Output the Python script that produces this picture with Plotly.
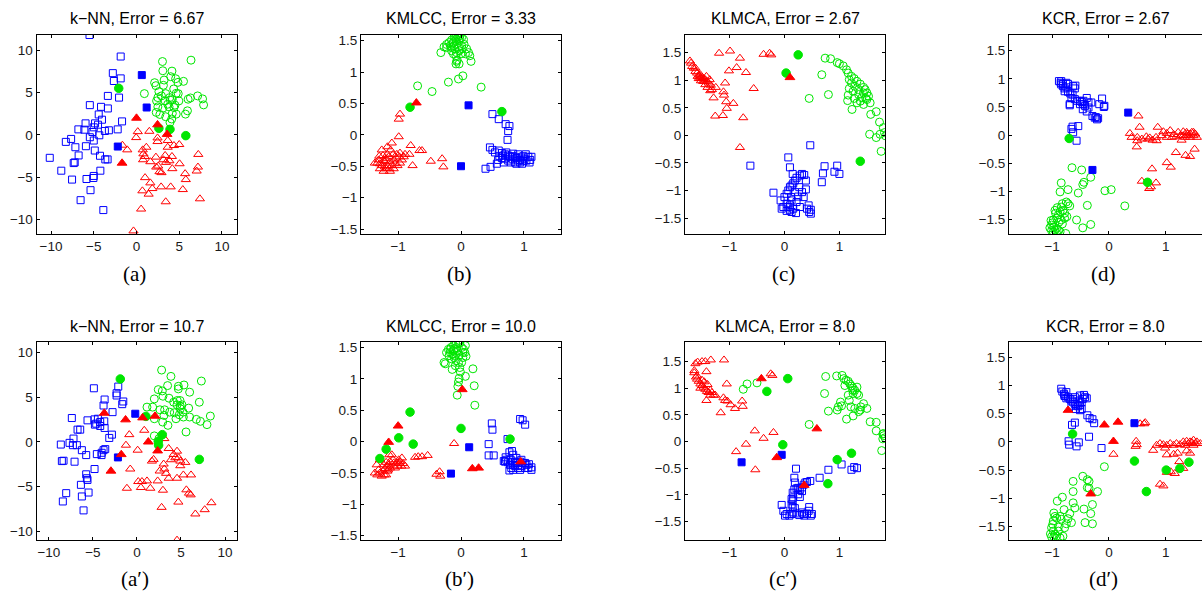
import plotly.graph_objects as go

W, H = 1202, 595

# ---------------- data: panel (a) k-NN ----------------
a_blue_open = [(-5.5,11.8),(-1.85,9.26),(-2.77,7.3),(-2.65,6.37),(-1.85,6.68),(-2.04,4.41),(-3.35,4.61),(-5.46,3.52),(-4.15,3.32),(-3.35,3.13),(-4.42,2.42),(-1.69,1.6),(-4.04,1.8),(-5.96,1.37),(-4.85,1.37),(-4.5,1.21),(-6.8,0.66),(-6.1,0.62),(-5.0,0.9),(-5.15,0.35),(-4.35,-0.04),(-5.46,-0.27),(-5.0,-0.66),(-3.7,0.47),(-3.23,0.55),(-2.2,0.66),(-7.65,-0.47),(-8.27,-0.82),(-7.15,-1.45),(-5.92,-1.33),(-4.88,-1.84),(-6.77,-2.42),(-4.27,-2.46),(-3.65,-2.89),(-3.38,-2.89),(-10.15,-2.7),(-7.23,-3.24),(-7.35,-3.32),(-8.8,-4.22),(-5.0,-4.84),(-5.04,-5.08),(-4.23,-4.22),(-5.85,-5.2),(-7.54,-5.27),(-5.38,-6.52),(-6.54,-7.7),(-3.88,-8.87)]
a_blue_fill = [(0.62,7.07),(1.19,3.24),(-2.19,-1.37)]
a_green_open = [(3.04,8.67),(6.38,8.83),(3.08,7.58),(4.15,7.54),(4.0,6.88),(4.58,6.64),(3.23,6.48),(2.12,6.17),(5.5,6.33),(4.85,6.21),(2.27,5.82),(3.15,5.86),(0.92,4.88),(2.62,5.12),(4.35,5.43),(3.42,4.88),(4.65,4.92),(4.88,4.88),(2.5,4.41),(2.92,4.61),(3.88,4.41),(6.04,4.22),(6.31,4.37),(7.15,4.61),(7.73,4.26),(7.85,3.55),(2.35,4.02),(3.35,4.02),(3.96,4.1),(4.19,4.18),(4.96,4.02),(2.5,3.32),(3.08,3.16),(3.81,3.32),(4.38,3.24),(2.31,2.66),(2.73,2.42),(4.19,2.54),(4.65,2.46),(5.96,2.85),(5.73,2.46),(3.42,2.15),(4.12,1.88),(3.92,1.48),(3.65,3.63),(4.5,3.52)]
a_green_fill = [(-2.08,5.51),(2.62,0.78),(3.92,0.66),(5.77,-0.08)]
a_red_open = [(-0.04,-0.31),(0.15,0.39),(1.5,0.43),(-1.65,-1.21),(-1.08,-1.76),(2.46,-0.35),(2.46,-0.78),(3.65,-0.66),(4.38,-1.25),(5.0,-1.13),(0.73,-1.76),(0.96,-2.54),(2.27,-2.62),(3.35,-2.42),(4.15,-2.54),(7.23,-2.3),(1.62,-3.16),(3.46,-3.24),(3.85,-3.05),(5.04,-3.4),(2.31,-3.79),(2.69,-4.34),(4.19,-3.98),(7.19,-3.79),(7.04,-4.26),(2.92,-4.45),(1.0,-5.04),(5.69,-4.57),(1.62,-5.66),(1.85,-6.33),(2.88,-6.13),(4.0,-6.13),(0.69,-6.6),(1.42,-6.99),(5.42,-6.45),(7.42,-7.54),(3.42,-7.89),(0.54,-8.75),(-0.35,-11.33),(0.77,-2.93),(3.65,-1.45),(3.15,-2.93),(2.54,-3.67),(0.81,-2.23),(1.15,-1.45),(5.77,-5.27)]
a_red_fill = [(0.0,1.99),(2.46,1.21),(3.58,0.08),(-1.69,-3.32)]

# ---------------- data: panel (b) KMLCC ----------------
b_green_open = [(-0.11,1.56),(-0.07,1.59),(-0.04,1.60),(-0.02,1.58),(0.01,1.55),(-0.08,1.52),(-0.15,1.51),(-0.19,1.47),(-0.23,1.44),(-0.27,1.40),(-0.12,1.47),(-0.03,1.50),(0.04,1.52),(-0.15,1.39),(-0.10,1.37),(-0.04,1.40),(0.01,1.42),(0.09,1.37),(0.12,1.31),(0.14,1.26),(0.16,1.17),(-0.32,1.31),(-0.23,1.39),(-0.12,1.29),(-0.08,1.26),(0.0,1.29),(0.07,1.29),(-0.07,1.17),(-0.08,1.13),(-0.06,1.19),(-0.03,1.13),(0.03,0.94),(-0.04,0.89),(-0.20,0.84),(-0.46,0.69),(-0.69,0.78),(0.32,0.76),(-0.05,1.56),(-0.09,1.55),(-0.02,1.54),(-0.13,1.46),(-0.17,1.42),(-0.11,1.42),(0.05,1.44),(-0.15,1.34),(-0.07,1.31),(-0.03,1.34),(0.02,1.37)]
b_green_fill = [(-0.81,0.44),(0.65,0.37)]
b_red_open = [(-0.97,0.33),(-0.99,0.25),(-0.99,-0.03),(-1.10,-0.13),(-1.17,-0.19),(-1.26,-0.24),(-1.12,-0.24),(-1.30,-0.34),(-1.33,-0.45),(-1.29,-0.46),(-1.23,-0.41),(-1.19,-0.38),(-1.15,-0.35),(-1.13,-0.43),(-1.07,-0.40),(-1.03,-0.37),(-0.98,-0.35),(-0.94,-0.40),(-1.21,-0.51),(-1.17,-0.49),(-1.23,-0.58),(-1.19,-0.54),(-1.10,-0.49),(-1.05,-0.46),(-0.97,-0.45),(-0.97,-0.29),(-1.26,-0.49),(-1.31,-0.40),(-1.14,-0.54),(-1.08,-0.31),(-1.02,-0.31),(-0.80,-0.17),(-0.82,-0.31),(-0.66,-0.25),(-0.62,-0.25),(-0.77,-0.49),(-0.48,-0.42),(-0.30,-0.38),(-0.28,-0.51),(-1.17,-0.31),(-1.24,-0.33),(-1.01,-0.49),(-0.89,-0.31),(-1.21,-0.43),(-1.29,-0.54),(-1.13,-0.58),(-1.07,-0.54),(-1.37,-0.45),(-0.91,-0.35)]
b_red_fill = [(-0.71,0.51)]
b_blue_open = [(0.50,0.33),(0.60,0.25),(0.71,0.17),(0.77,0.14),(0.75,0.06),(0.74,-0.08),(0.46,-0.20),(0.50,-0.24),(0.60,-0.25),(0.65,-0.29),(0.70,-0.31),(0.61,-0.34),(0.75,-0.33),(0.83,-0.30),(0.91,-0.31),(0.99,-0.34),(1.07,-0.35),(1.04,-0.41),(0.99,-0.42),(0.94,-0.40),(0.88,-0.37),(0.83,-0.39),(0.78,-0.35),(0.70,-0.38),(0.65,-0.37),(0.59,-0.40),(0.68,-0.44),(0.57,-0.46),(0.47,-0.51),(0.39,-0.54),(0.94,-0.44),(0.86,-0.44),(1.01,-0.38),(1.10,-0.40),(1.09,-0.44),(0.96,-0.36),(0.91,-0.41),(0.82,-0.34),(0.75,-0.41),(0.67,-0.33),(0.54,-0.28),(1.03,-0.31),(0.97,-0.46),(0.88,-0.46),(1.12,-0.35),(0.72,-0.28),(0.79,-0.44),(0.86,-0.35)]
b_blue_fill = [(0.12,0.47),(0.0,-0.50)]

# ---------------- data: panel (c) KLMCA ----------------
c_red_open = [(-1.72,1.35),(-1.70,1.31),(-1.68,1.25),(-1.65,1.22),(-1.62,1.16),(-1.59,1.13),(-1.58,1.07),(-1.55,1.09),(-1.53,1.04),(-1.50,1.05),(-1.47,1.03),(-1.44,1.01),(-1.41,0.98),(-1.38,0.95),(-1.44,0.92),(-1.40,0.87),(-1.35,0.81),(-1.32,0.83),(-1.25,0.87),(-1.36,1.01),(-1.48,0.98),(-1.53,1.10),(-1.56,1.03),(-1.42,1.07),(-1.29,0.68),(-1.26,0.35),(-1.12,0.36),(-1.10,0.73),(-1.11,0.79),(-1.08,0.95),(-1.05,0.49),(-1.06,0.61),(-0.93,0.58),(-1.01,1.17),(-0.87,1.23),(-0.81,1.40),(-1.19,1.49),(-0.99,1.53),(-0.70,1.14),(-0.75,0.32),(-0.56,0.85),(-0.38,1.47),(-0.27,1.49),(-0.24,1.46),(-0.81,-0.22),(-1.46,0.98),(-1.52,0.99),(-1.62,1.22),(-1.34,0.91)]
c_red_fill = [(0.10,1.05)]
c_green_open = [(0.74,1.40),(0.84,1.39),(0.96,1.32),(1.00,1.30),(1.07,1.26),(1.13,1.19),(1.16,1.13),(1.22,1.07),(1.27,1.03),(1.18,1.01),(1.32,0.98),(1.38,0.93),(1.44,0.87),(1.47,0.83),(1.50,0.77),(1.53,0.71),(1.48,0.67),(1.41,0.68),(1.35,0.74),(1.25,0.80),(1.18,0.85),(1.16,0.73),(1.15,0.63),(1.23,0.47),(1.32,0.59),(1.38,0.62),(1.44,0.56),(1.50,0.65),(1.56,0.59),(1.27,0.67),(1.28,0.89),(1.35,0.83),(1.44,0.77),(0.68,1.10),(0.80,0.74),(0.45,0.67),(1.57,0.38),(1.67,0.43),(1.73,0.24),(1.80,0.14),(1.82,0.05),(1.84,-0.01),(1.74,0.02),(1.55,0.02),(1.67,-0.04),(1.76,-0.29),(1.22,0.95)]
c_green_fill = [(0.03,1.13),(0.25,1.46),(1.38,-0.47)]
c_blue_open = [(0.47,-0.18),(0.07,-0.40),(0.10,-0.58),(-0.62,-0.55),(-0.20,-1.04),(-0.07,-1.18),(0.0,-1.12),(0.04,-1.06),(0.07,-1.00),(0.10,-0.94),(0.13,-0.91),(0.16,-0.87),(0.19,-0.82),(0.22,-0.77),(0.28,-0.73),(0.32,-0.70),(0.36,-0.72),(0.39,-0.82),(0.15,-0.70),(0.04,-1.24),(0.07,-1.30),(0.10,-1.36),(0.13,-1.39),(0.16,-1.33),(0.10,-1.27),(0.13,-1.18),(0.22,-1.21),(0.28,-1.30),(0.32,-1.03),(0.35,-1.12),(0.41,-1.33),(0.44,-1.27),(0.45,-1.39),(0.48,-1.35),(0.48,-1.42),(0.21,-1.41),(0.04,-1.37),(-0.02,-1.30),(0.70,-0.69),(0.73,-0.56),(0.96,-0.55),(0.91,-0.66),(1.00,-0.70),(0.68,-0.85),(0.39,-0.98),(0.25,-1.11),(0.19,-1.03),(0.12,-1.12),(0.27,-0.94),(-0.05,-1.33)]
c_blue_fill = []

# ---------------- data: panel (d) KCR ----------------
d_blue_open = [(-0.88,0.96),(-0.85,0.93),(-0.84,0.90),(-0.81,0.87),(-0.78,0.83),(-0.75,0.93),(-0.72,0.91),(-0.63,0.87),(-0.60,0.83),(-0.78,0.78),(-0.72,0.77),(-0.68,0.74),(-0.64,0.72),(-0.66,0.66),(-0.60,0.64),(-0.56,0.61),(-0.51,0.61),(-0.48,0.59),(-0.45,0.55),(-0.42,0.52),(-0.46,0.46),(-0.39,0.42),(-0.36,0.49),(-0.29,0.34),(-0.25,0.31),(-0.21,0.28),(-0.19,0.30),(-0.69,0.53),(-0.69,0.55),(-0.59,0.88),(-0.39,0.66),(-0.17,0.55),(-0.12,0.65),(-0.09,0.50),(-0.08,0.52),(-0.64,0.15),(-0.66,0.11),(-0.63,0.05),(-0.54,0.16),(-0.57,-0.10),(-0.84,0.96),(-0.81,0.91),(-0.75,0.85),(-0.51,0.55),(-0.45,0.61),(-0.36,0.58),(-0.31,0.58),(-0.23,0.32)]
d_blue_fill = [(0.34,0.40),(-0.29,-0.62)]
d_green_open = [(-0.65,-0.58),(-0.48,-0.62),(-0.44,-0.84),(-0.46,-0.88),(-0.32,-0.75),(-0.84,-0.85),(-0.86,-1.01),(-0.72,-0.97),(-0.54,-1.03),(-0.07,-0.99),(0.04,-0.97),(0.28,-1.26),(-0.38,-1.25),(-0.57,-1.51),(-0.46,-1.65),(-0.32,-1.59),(-0.75,-1.19),(-0.82,-1.22),(-0.72,-1.22),(-0.84,-1.28),(-0.91,-1.29),(-0.95,-1.34),(-0.94,-1.39),(-0.86,-1.36),(-0.81,-1.34),(-0.78,-1.39),(-0.89,-1.42),(-0.92,-1.48),(-0.98,-1.51),(-0.99,-1.56),(-1.01,-1.60),(-0.97,-1.63),(-0.92,-1.66),(-0.89,-1.69),(-0.86,-1.72),(-0.82,-1.58),(-0.95,-1.69),(-1.01,-1.70),(-1.04,-1.65),(-1.02,-1.52),(-0.76,-1.75),(-0.92,-1.75),(-0.84,-1.51),(-0.78,-1.48),(-0.69,-1.26),(-0.74,-1.45),(-0.88,-1.55),(-0.98,-1.72)]
d_green_fill = [(-0.70,-0.06),(0.68,-0.84)]
d_red_open = [(0.52,0.34),(0.54,0.14),(0.37,0.03),(0.86,0.14),(0.50,-0.04),(0.50,-0.10),(0.49,-0.21),(0.66,-0.03),(0.72,-0.05),(0.83,-0.04),(0.96,0.06),(1.02,0.03),(1.08,0.08),(1.14,0.01),(1.22,0.05),(1.31,0.06),(1.37,-0.01),(1.43,0.02),(1.46,0.05),(1.49,-0.01),(1.52,0.02),(1.43,-0.04),(1.34,-0.04),(1.27,-0.01),(1.19,-0.03),(1.11,-0.04),(1.02,-0.04),(0.93,-0.01),(0.84,-0.10),(0.77,-0.09),(0.69,-0.07),(0.58,-0.07),(1.18,-0.31),(1.35,-0.36),(1.43,-0.38),(1.51,-0.25),(1.02,-0.49),(1.09,-0.57),(0.76,-0.60),(0.58,-0.82),(0.71,-0.95),(0.74,-0.92),(0.83,-0.85),(0.40,-0.04),(1.37,0.05),(1.28,-0.09),(1.49,0.05),(1.55,-0.04),(1.38,0.02),(1.31,-0.01)]
d_red_fill = []

# ---------------- data: panel (a') k-NN ----------------
ap_blue_open = [(-4.89,6.0),(-2.12,6.19),(-2.31,5.44),(-2.31,5.19),(-3.67,4.74),(-3.79,4.07),(-1.55,4.52),(-1.67,4.22),(-7.39,2.67),(-5.61,2.41),(-4.81,2.52),(-4.43,2.59),(-4.17,2.22),(-4.77,1.93),(-4.62,2.04),(-4.17,1.78),(-3.71,2.30),(-3.67,1.56),(-2.77,3.33),(-6.74,1.37),(-6.44,1.37),(-7.20,0.37),(-7.65,-0.11),(-7.27,-0.37),(-6.82,-0.37),(-6.25,-0.93),(-5.76,-1.48),(-8.64,-0.30),(-8.52,-2.15),(-8.33,-2.11),(-7.08,-2.22),(-4.55,-1.37),(-4.0,-1.22),(-3.79,-0.93),(-3.60,-0.81),(-4.02,-1.48),(-3.14,0.44),(-2.84,0.81),(-4.81,-3.04),(-5.76,-3.63),(-5.68,-4.07),(-5.61,-4.26),(-6.36,-4.81),(-5.49,-5.67),(-6.25,-6.11),(-8.03,-5.74),(-8.41,-6.67),(-6.06,-7.67)]
ap_blue_fill = [(-0.19,3.15),(-2.16,-1.74)]
ap_green_open = [(2.80,8.04),(3.86,7.33),(2.42,5.85),(2.88,5.70),(3.48,6.30),(4.70,6.22),(4.70,5.93),(5.34,6.37),(7.31,6.81),(5.98,5.56),(1.97,4.81),(2.95,5.11),(3.64,4.89),(4.58,4.63),(4.89,4.63),(4.55,4.15),(5.11,4.15),(7.08,4.44),(1.14,3.89),(1.78,3.89),(2.61,3.59),(3.14,3.59),(3.71,3.33),(4.24,3.26),(4.92,3.70),(5.87,3.78),(4.81,3.04),(5.27,2.78),(5.98,2.78),(6.74,2.52),(7.20,2.30),(7.95,1.93),(8.33,2.89),(1.97,2.59),(3.07,2.96),(2.92,2.22),(3.52,1.85),(4.43,2.59),(5.57,1.11),(1.97,0.67),(2.50,0.37),(4.92,4.0),(4.17,4.44),(5.23,3.33)]
ap_green_fill = [(-1.89,7.04),(1.02,2.85),(2.88,0.81),(2.42,0.07),(2.46,-0.37),(7.08,-1.96)]
ap_red_open = [(0.83,1.30),(-0.87,0.81),(-1.25,-0.37),(0.08,-0.93),(1.89,-1.96),(1.70,-2.15),(3.11,0.37),(3.60,-0.74),(4.55,-1.04),(4.17,-1.41),(4.36,-1.78),(4.73,-1.78),(3.86,-2.0),(4.92,-2.15),(5.49,-2.30),(3.03,-2.48),(4.92,-2.67),(2.58,-3.26),(3.11,-3.04),(3.30,-3.52),(3.60,-4.07),(4.55,-4.07),(5.27,-3.70),(6.14,-3.70),(-0.76,-3.04),(0.15,-4.44),(0.57,-4.44),(1.14,-4.37),(0.45,-5.11),(1.52,-5.19),(2.35,-4.37),(2.95,-5.41),(-1.14,-5.19),(5.61,-5.37),(5.91,-5.74),(6.10,-5.93),(4.70,-6.74),(2.80,-7.33),(6.63,-8.07),(7.69,-7.59),(8.45,-6.81),(4.55,-11.0)]
ap_red_fill = [(-3.71,3.22),(-1.29,2.48),(0.64,2.70),(2.05,2.89),(1.29,0.0),(2.35,-1.0),(-1.78,-1.41),(-2.95,-3.26)]

# ---------------- data: panel (b') KMLCC ----------------
bp_green_open = [(-0.20,1.47),(-0.16,1.50),(-0.12,1.53),(-0.08,1.55),(-0.04,1.58),(-0.02,1.57),(-0.07,1.50),(-0.12,1.45),(-0.17,1.42),(0.01,1.50),(0.04,1.47),(0.06,1.42),(0.08,1.36),(0.03,1.34),(-0.03,1.38),(-0.10,1.37),(-0.15,1.32),(-0.23,1.42),(-0.27,1.26),(-0.25,1.24),(-0.14,1.15),(-0.02,1.18),(-0.01,1.11),(-0.03,1.01),(-0.04,0.95),(-0.05,0.88),(-0.06,0.74),(0.19,1.16),(0.21,0.89),(0.22,0.58),(0.07,1.04),(-0.08,1.29),(0.01,1.26),(-0.11,1.34),(-0.06,1.45),(-0.13,1.39),(-0.19,1.37),(0.03,1.42),(-0.04,1.26),(0.07,1.53),(-0.17,1.47),(-0.11,1.48),(-0.09,1.21)]
bp_green_fill = [(-0.81,0.47),(-0.99,0.06),(-0.76,-0.04),(-1.19,-0.12),(-1.29,-0.27),(0.0,0.21),(0.78,0.04)]
bp_red_open = [(-0.11,-0.03),(-1.14,-0.21),(-1.29,-0.29),(-1.34,-0.37),(-1.37,-0.50),(-1.33,-0.53),(-1.29,-0.50),(-1.24,-0.47),(-1.21,-0.43),(-1.18,-0.39),(-1.15,-0.37),(-1.19,-0.33),(-1.13,-0.32),(-1.07,-0.34),(-1.02,-0.34),(-0.97,-0.32),(-0.92,-0.35),(-0.89,-0.39),(-0.95,-0.39),(-1.01,-0.39),(-1.07,-0.39),(-1.13,-0.42),(-1.17,-0.47),(-1.22,-0.53),(-1.26,-0.55),(-1.19,-0.53),(-1.08,-0.29),(-0.99,-0.29),(-0.73,-0.25),(-0.68,-0.24),(-0.62,-0.24),(-0.53,-0.22),(-0.39,-0.52),(-0.34,-0.48),(-0.33,-0.55),(-1.10,-0.21),(-1.05,-0.42),(-1.31,-0.45),(-0.94,-0.26),(-1.23,-0.37),(-1.16,-0.45),(-0.98,-0.35)]
bp_red_fill = [(0.02,0.83),(-1.0,0.25),(-1.15,-0.01),(0.18,-0.43),(0.28,-0.42),(0.95,-0.32)]
bp_blue_open = [(0.94,0.36),(0.98,0.34),(1.02,0.27),(0.49,0.29),(0.50,0.19),(0.44,-0.04),(0.44,-0.22),(0.52,-0.22),(0.74,0.04),(0.77,-0.17),(0.81,-0.15),(0.83,-0.21),(0.72,-0.29),(0.75,-0.33),(0.78,-0.37),(0.77,-0.46),(0.80,-0.42),(0.86,-0.39),(0.91,-0.37),(0.96,-0.39),(1.02,-0.42),(1.07,-0.42),(1.04,-0.37),(0.99,-0.34),(0.94,-0.32),(0.88,-0.34),(0.83,-0.37),(0.79,-0.29),(0.71,-0.25),(0.68,-0.31),(1.12,-0.41),(1.08,-0.36),(0.91,-0.42),(0.83,-0.45),(0.96,-0.29),(1.02,-0.34),(1.12,-0.45),(0.70,-0.32),(0.88,-0.26),(0.94,-0.45),(0.86,-0.32)]
bp_blue_fill = [(-0.16,-0.51),(0.13,-0.09)]

# ---------------- data: panel (c') KLMCA ----------------
cp_red_open = [(-1.62,1.46),(-1.58,1.49),(-1.50,1.50),(-1.42,1.31),(-1.44,1.50),(-1.34,1.53),(-1.10,1.53),(-1.64,1.33),(-1.61,1.21),(-1.59,1.17),(-1.56,1.13),(-1.53,1.08),(-1.50,1.05),(-1.47,1.02),(-1.44,0.98),(-1.41,0.94),(-1.38,0.92),(-1.35,0.96),(-1.32,0.92),(-1.29,0.87),(-1.26,0.87),(-1.46,1.12),(-1.53,1.00),(-1.40,1.07),(-1.42,0.77),(-1.11,0.82),(-1.08,0.77),(-1.04,0.76),(-0.98,0.69),(-0.90,0.62),(-0.77,0.76),(-0.76,0.66),(-1.16,0.54),(-1.05,1.08),(-0.54,0.20),(-0.38,0.06),(-0.20,0.17),(-0.22,1.24),(-0.25,1.27),(-0.70,-0.05),(-0.88,-0.19),(-0.53,-0.53),(-1.59,1.23),(-1.64,1.29),(-1.35,0.87),(-1.50,1.15)]
cp_red_fill = [(-0.42,1.18),(0.59,0.24),(-0.14,-0.30),(0.36,-0.82)]
cp_green_open = [(-0.75,0.98),(-0.68,1.08),(-0.50,1.10),(0.45,0.32),(0.75,1.22),(0.73,0.90),(0.80,0.57),(0.96,0.59),(0.98,0.65),(1.02,0.74),(1.04,0.67),(0.95,1.23),(1.05,1.24),(1.08,1.18),(1.12,1.15),(1.16,1.13),(1.19,1.08),(1.22,1.04),(1.25,1.00),(1.28,0.96),(1.32,0.90),(1.35,0.87),(1.32,1.02),(1.25,0.90),(1.16,0.87),(1.18,0.77),(1.21,0.65),(1.13,0.42),(1.25,0.48),(1.28,0.62),(1.35,0.56),(1.38,0.59),(1.44,0.71),(1.39,0.65),(1.50,0.62),(1.56,0.37),(1.67,0.36),(1.67,0.20),(1.79,0.14),(1.81,0.11),(1.83,0.07),(1.79,0.05),(1.77,-0.17),(1.80,0.15),(1.10,1.05),(1.24,0.96)]
cp_green_fill = [(0.06,1.18),(-0.32,0.94),(-0.03,-0.06),(0.96,-0.34),(1.22,-0.22),(0.79,-0.79)]
cp_blue_open = [(0.21,-0.51),(0.18,-0.68),(0.19,-0.77),(0.22,-0.88),(0.25,-0.87),(0.28,-0.90),(0.32,-0.86),(0.35,-0.81),(0.38,-0.77),(0.41,-0.76),(0.47,-0.74),(0.18,-0.90),(0.15,-0.96),(0.16,-1.05),(0.15,-1.12),(0.13,-1.18),(-0.05,-1.19),(-0.02,-1.30),(0.04,-1.36),(0.09,-1.39),(0.13,-1.36),(0.16,-1.33),(0.22,-1.35),(0.27,-1.38),(0.32,-1.33),(0.35,-1.36),(0.41,-1.35),(0.44,-1.30),(0.45,-1.23),(0.48,-1.39),(0.50,-1.36),(0.36,-1.39),(0.01,-1.39),(0.19,-1.25),(0.15,-1.23),(0.28,-1.04),(0.25,-0.99),(0.32,-0.93),(0.64,-0.68),(0.80,-0.53),(1.04,-0.43),(1.22,-0.53),(1.27,-0.48),(1.32,-0.50),(0.13,-1.08)]
cp_blue_fill = [(-0.78,-0.39),(-0.05,-0.25)]

# ---------------- data: panel (d') KCR ----------------
dp_blue_open = [(-0.84,0.94),(-0.82,0.89),(-0.79,0.85),(-0.78,0.81),(-0.75,0.77),(-0.72,0.79),(-0.69,0.76),(-0.66,0.73),(-0.63,0.70),(-0.60,0.67),(-0.57,0.64),(-0.54,0.63),(-0.51,0.65),(-0.48,0.70),(-0.46,0.76),(-0.42,0.79),(-0.39,0.77),(-0.44,0.83),(-0.60,0.79),(-0.52,0.73),(-0.66,0.64),(-0.58,0.58),(-0.51,0.56),(-0.48,0.58),(-0.63,0.76),(-0.38,0.47),(-0.34,0.42),(-0.29,0.40),(-0.26,0.33),(-0.65,0.30),(-0.60,0.34),(-0.35,0.09),(-0.13,-0.11),(-0.71,0.01),(-0.70,-0.05),(-0.57,-0.08),(-0.53,-0.01),(-0.78,0.82),(-0.51,0.82),(-0.75,0.88)]
dp_blue_fill = [(0.45,0.33)]
dp_green_open = [(-0.08,-0.44),(-0.46,-0.61),(-0.63,-0.70),(-0.63,-0.88),(-0.38,-0.67),(-0.35,-0.70),(-0.38,-0.81),(-0.35,-0.82),(-0.20,-0.88),(-0.29,-1.11),(-0.32,-1.27),(-0.29,-1.45),(-0.42,-1.43),(-0.44,-1.19),(-0.60,-1.17),(-0.63,-1.08),(-0.82,-0.98),(-0.91,-1.05),(-0.79,-1.20),(-0.86,-1.32),(-0.69,-1.27),(-0.72,-1.36),(-0.84,-1.37),(-0.92,-1.35),(-0.97,-1.26),(-0.95,-1.32),(-0.98,-1.40),(-0.99,-1.46),(-1.01,-1.52),(-0.98,-1.58),(-0.95,-1.64),(-0.92,-1.67),(-0.86,-1.70),(-0.81,-1.67),(-0.89,-1.58),(-0.89,-1.51),(-1.03,-1.63),(-1.01,-1.68),(-0.97,-1.68),(-0.75,-1.45),(-0.78,-1.52),(-0.66,-1.43)]
dp_green_fill = [(-0.64,0.14),(0.45,-0.34),(0.66,-0.88),(1.01,-0.50),(1.25,-0.47),(1.41,-0.36)]
dp_red_open = [(0.55,0.32),(0.62,0.32),(0.64,0.34),(0.48,0.01),(0.49,-0.05),(0.47,-0.08),(0.08,-0.22),(0.84,-0.06),(0.90,-0.03),(0.96,-0.05),(1.02,-0.06),(1.08,-0.03),(1.14,-0.06),(1.19,-0.03),(1.25,-0.05),(1.31,0.0),(1.37,0.01),(1.43,0.0),(1.49,0.03),(1.55,0.0),(1.61,-0.03),(1.34,-0.06),(1.40,-0.03),(1.46,-0.01),(1.52,-0.03),(0.78,-0.15),(1.02,-0.23),(1.14,-0.22),(1.21,-0.20),(1.37,-0.16),(1.43,-0.20),(1.24,-0.35),(1.31,-0.47),(1.09,-0.53),(1.16,-0.56),(1.02,-0.54),(0.90,-0.75),(0.96,-0.78),(0.99,-0.11),(1.49,-0.06)]
dp_red_fill = [(-0.72,0.56),(-0.08,0.30),(0.16,0.35),(0.08,0.01),(-0.32,-0.92)]

# ---------------- text / ticks ----------------
titles = ["k\u2212NN, Error = 6.67", "KMLCC, Error = 3.33", "KLMCA, Error = 2.67", "KCR, Error = 2.67",
          "k\u2212NN, Error = 10.7", "KMLCC, Error = 10.0", "KLMCA, Error = 8.0", "KCR, Error = 8.0"]
labels = ["(a)", "(b)", "(c)", "(d)", "(a\u2032)", "(b\u2032)", "(c\u2032)", "(d\u2032)"]
ticks_big = [-10, -5, 0, 5, 10]
ticks_big_text = ["\u221210", "\u22125", "0", "5", "10"]
ticks_x_small = [-1, 0, 1]
ticks_x_small_text = ["\u22121", "0", "1"]
ticks_y_small = [-1.5, -1, -0.5, 0, 0.5, 1, 1.5]
ticks_y_small_text = ["\u22121.5", "\u22121", "\u22120.5", "0", "0.5", "1", "1.5"]

x_ranges = [[-11.7, 11.7], [-1.59, 1.59], [-1.81, 1.83], [-1.76, 1.64],
            [-11.4, 11.3], [-1.59, 1.59], [-1.81, 1.83], [-1.76, 1.64]]
y_ranges = [[-11.7, 11.8], [-1.58, 1.59], [-1.79, 1.82], [-1.76, 1.78],
            [-11.0, 11.2], [-1.57, 1.59], [-1.85, 1.87], [-1.74, 1.77]]

panels = [
    (a_blue_open, a_blue_fill, a_green_open, a_green_fill, a_red_open, a_red_fill),
    (b_blue_open, b_blue_fill, b_green_open, b_green_fill, b_red_open, b_red_fill),
    (c_blue_open, c_blue_fill, c_green_open, c_green_fill, c_red_open, c_red_fill),
    (d_blue_open, d_blue_fill, d_green_open, d_green_fill, d_red_open, d_red_fill),
    (ap_blue_open, ap_blue_fill, ap_green_open, ap_green_fill, ap_red_open, ap_red_fill),
    (bp_blue_open, bp_blue_fill, bp_green_open, bp_green_fill, bp_red_open, bp_red_fill),
    (cp_blue_open, cp_blue_fill, cp_green_open, cp_green_fill, cp_red_open, cp_red_fill),
    (dp_blue_open, dp_blue_fill, dp_green_open, dp_green_fill, dp_red_open, dp_red_fill),
]

# ---------------- layout geometry (pixels) ----------------
col_px = [(36.5, 236.5), (361, 561), (685, 885), (1009, 1202)]
row_px = [(33.3, 234), (342.7, 542.7)]
title_y_px = [17, 327]
label_y_px = [274, 582]

BLUE = "#0000FF"
GREEN = "#00E600"
RED = "#FF0000"

fig = go.Figure()
layout = dict(width=W, height=H, margin=dict(l=0, r=0, t=0, b=0),
              paper_bgcolor="white", plot_bgcolor="white", showlegend=False)
annotations = []

for i, data in enumerate(panels):
    r, c = divmod(i, 4)
    n = i + 1
    xa = "x" if n == 1 else f"x{n}"
    ya = "y" if n == 1 else f"y{n}"
    x0, x1 = col_px[c]
    y0, y1 = row_px[r]
    xdom = [x0 / W, x1 / W]
    ydom = [(H - y1) / H, (H - y0) / H]
    big = (c == 0)
    axfont = dict(family="Liberation Sans, Arial, sans-serif", size=13.5, color="#1a1a1a")
    layout["xaxis" if n == 1 else f"xaxis{n}"] = dict(
        domain=xdom, anchor=ya, range=x_ranges[i], showgrid=False, zeroline=False,
        showline=True, linecolor="black", linewidth=1, mirror="ticks",
        ticks="inside", ticklen=3, tickwidth=1, tickcolor="black",
        tickvals=ticks_big if big else ticks_x_small,
        ticktext=ticks_big_text if big else ticks_x_small_text,
        tickfont=axfont, fixedrange=True)
    layout["yaxis" if n == 1 else f"yaxis{n}"] = dict(
        domain=ydom, anchor=xa, range=y_ranges[i], showgrid=False, zeroline=False,
        showline=True, linecolor="black", linewidth=1,
        mirror=False if c == 3 else "ticks",
        ticks="inside", ticklen=3, tickwidth=1, tickcolor="black",
        tickvals=ticks_big if big else ticks_y_small,
        ticktext=ticks_big_text if big else ticks_y_small_text,
        tickfont=axfont, fixedrange=True)

    bo, bf, go_, gf, ro, rf = data
    specs = [
        (bo, "square-open", 7, BLUE), (go_, "circle-open", 8, GREEN), (ro, "triangle-up-open", 8, RED),
        (bf, "square", 7, BLUE), (gf, "circle", 8.5, GREEN), (rf, "triangle-up", 8.5, RED),
    ]
    for pts, sym, size, col in specs:
        if not pts:
            continue
        fig.add_trace(go.Scatter(
            x=[p[0] for p in pts], y=[p[1] for p in pts], mode="markers",
            xaxis=xa, yaxis=ya, hoverinfo="skip",
            marker=dict(symbol=sym, size=size, color=col,
                        line=dict(color=col, width=1))))

    cx = (x0 + min(x1, x0 + 200)) / 2 / W
    annotations.append(dict(text=titles[i], x=cx, y=(H - title_y_px[r]) / H,
                            xref="paper", yref="paper", showarrow=False,
                            xanchor="center", yanchor="middle",
                            font=dict(family="Liberation Sans, Arial, sans-serif", size=16, color="black")))
    annotations.append(dict(text=labels[i], x=cx - 2 / W, y=(H - label_y_px[r]) / H,
                            xref="paper", yref="paper", showarrow=False,
                            xanchor="center", yanchor="middle",
                            font=dict(family="Liberation Serif, Times New Roman, serif", size=21, color="black")))

layout["annotations"] = annotations
fig.update_layout(**layout)
fig.write_html("out.html", config={"displayModeBar": False},
               post_script="document.body.style.margin='0';document.body.style.overflow='hidden';")
